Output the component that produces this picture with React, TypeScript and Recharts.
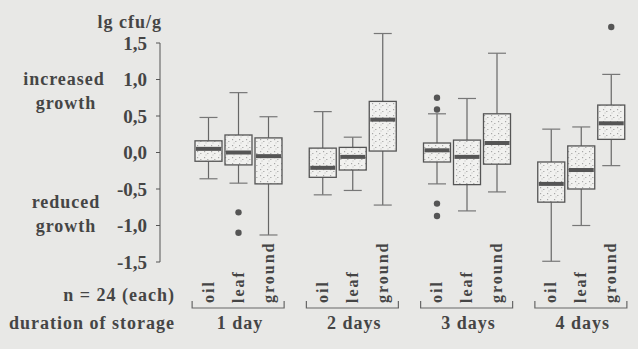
import { BarChart, Bar, XAxis, YAxis } from 'recharts'

// storage duration groups
const days = ['1 day', '2 days', '3 days', '4 days']
const varieties = ['oil', 'leaf', 'ground']

// five-number summaries per day: [min, q1, median, q3, max] (lg cfu/g)
const oil = [
  [-0.36, -0.12, 0.05, 0.16, 0.48],
  [-0.58, -0.34, -0.21, 0.06, 0.56],
  [-0.43, -0.13, 0.03, 0.13, 0.53],
  [-1.49, -0.68, -0.43, -0.13, 0.32],
]
const leaf = [
  [-0.42, -0.17, 0.0, 0.24, 0.82],
  [-0.52, -0.24, -0.06, 0.07, 0.21],
  [-0.8, -0.44, -0.06, 0.17, 0.74],
  [-1.0, -0.5, -0.24, 0.09, 0.35],
]
const ground = [
  [-1.13, -0.43, -0.05, 0.2, 0.49],
  [-0.72, 0.02, 0.45, 0.7, 1.63],
  [-0.54, -0.16, 0.13, 0.53, 1.36],
  [-0.18, 0.18, 0.4, 0.65, 1.07],
]

// outliers per day
const oilOut = [[], [], [0.75, 0.59, -0.7, -0.87], []]
const leafOut = [[-0.82, -1.1], [], [], []]
const groundOut = [[], [], [], [1.72]]

const yTicks = [-1.5, -1, -0.5, 0, 0.5, 1, 1.5]

const data = days.map((day, i) => ({
  day,
  oil: oil[i],
  leaf: leaf[i],
  ground: ground[i],
  oilOut: oilOut[i],
  leafOut: leafOut[i],
  groundOut: groundOut[i],
}))

const INK = '#454545'
const FONT = "'Liberation Serif', 'Times New Roman', Times, serif"

const makeBox = (key: string) => (props: any) => {
  const { x, y, width, height, payload } = props
  const [min, q1, med, q3, max] = payload[key]
  const outs: number[] = payload[key + 'Out']
  const top = Math.min(y, y + height)
  const bottom = Math.max(y, y + height)
  const ppu = (bottom - top) / (q3 - q1)
  const py = (v: number) => top + (q3 - v) * ppu
  const cx = x + width / 2
  return (
    <g>
      <line x1={cx} x2={cx} y1={py(max)} y2={top} stroke="#666" strokeWidth={1.2} />
      <line x1={cx} x2={cx} y1={bottom} y2={py(min)} stroke="#666" strokeWidth={1.2} />
      <line x1={cx - 9} x2={cx + 9} y1={py(max)} y2={py(max)} stroke="#777" strokeWidth={1.2} />
      <line x1={cx - 9} x2={cx + 9} y1={py(min)} y2={py(min)} stroke="#777" strokeWidth={1.2} />
      <rect x={x} y={top} width={width} height={bottom - top} fill="#f1f1ef" />
      <rect x={x} y={top} width={width} height={bottom - top} fill="url(#speckle)" />
      <rect x={x} y={top} width={width} height={bottom - top} fill="none" stroke="#555" strokeWidth={1.3} />
      <rect x={x + 1} y={py(med) - 2} width={width - 2} height={4} fill="#555" />
      {outs.map((v, i) => (
        <circle key={i} cx={cx} cy={py(v)} r={3.2} fill="#555" />
      ))}
    </g>
  )
}

const DayTick = (props: any) => {
  const { x, y, payload } = props
  return (
    <g style={{ fontFamily: FONT, fontWeight: 'bold' }} fill={INK}>
      {varieties.map((v, i) => (
        <text
          key={v}
          transform={`translate(${x + (i - 1) * 30}, ${y + 41}) rotate(-90)`}
          textAnchor="start"
          dominantBaseline="central"
          fontSize={16}
          letterSpacing={2}
        >
          {v}
        </text>
      ))}
      <path
        d={`M${x - 46},${y + 39} V${y + 46} H${x + 46} V${y + 39}`}
        fill="none"
        stroke="#666"
        strokeWidth={1.2}
      />
      <text x={x + 2} y={y + 67} textAnchor="middle" fontSize={18} letterSpacing={1}>
        {payload.value}
      </text>
    </g>
  )
}

const YTick = (props: any) => {
  const { x, y, payload } = props
  return (
    <text
      x={x}
      y={y}
      textAnchor="end"
      dominantBaseline="central"
      style={{ fontFamily: FONT, fontWeight: 'bold' }}
      fontSize={19}
      fill={INK}
    >
      {payload.value.toFixed(1).replace('.', ',')}
    </text>
  )
}

export default function App() {
  return (
    <div
      style={{
        position: 'absolute',
        left: 0,
        top: 0,
        width: 638,
        height: 349,
        background: '#e8e8e6',
      }}
    >
      <svg width={0} height={0} style={{ position: 'absolute' }}>
        <defs>
          <pattern id="speckle" width={7} height={6} patternUnits="userSpaceOnUse">
            <rect x={1} y={1} width={1.2} height={1.2} fill="#777" opacity={0.6} />
            <rect x={4} y={3} width={1.5} height={1} fill="#777" opacity={0.5} />
            <rect x={2.5} y={4.5} width={1} height={1} fill="#888" opacity={0.5} />
          </pattern>
        </defs>
      </svg>
      <BarChart
        width={638}
        height={349}
        data={data}
        margin={{ top: 43, right: 0, bottom: 0, left: 0 }}
        barSize={27}
        barGap={3}
      >
        <XAxis
          dataKey="day"
          height={87}
          axisLine={false}
          tickLine={false}
          tickSize={0}
          tickMargin={0}
          padding={{ left: 21, right: 0 }}
          interval={0}
          tick={<DayTick />}
        />
        <YAxis
          width={160}
          domain={[-1.5, 1.5]}
          ticks={yTicks}
          interval={0}
          stroke="#555"
          tickSize={4}
          tickMargin={9}
          tick={<YTick />}
        />
        {varieties.map((v) => (
          <Bar
            key={v}
            dataKey={(d: any) => [d[v][1], d[v][3]]}
            shape={makeBox(v)}
            isAnimationActive={false}
          />
        ))}
      </BarChart>
      <svg
        width={638}
        height={349}
        style={{ position: 'absolute', left: 0, top: 0, pointerEvents: 'none' }}
      >
        <g style={{ fontFamily: FONT, fontWeight: 'bold' }} fill={INK} fontSize={18} letterSpacing={1}>
          <text x={162} y={28} textAnchor="end">lg cfu/g</text>
          <text x={64} y={85} textAnchor="middle">increased</text>
          <text x={66} y={109} textAnchor="middle">growth</text>
          <text x={66} y={208} textAnchor="middle">reduced</text>
          <text x={66} y={232} textAnchor="middle">growth</text>
          <text x={175} y={301} textAnchor="end">n = 24 (each)</text>
          <text x={175} y={329} textAnchor="end">duration of storage</text>
        </g>
      </svg>
    </div>
  )
}
